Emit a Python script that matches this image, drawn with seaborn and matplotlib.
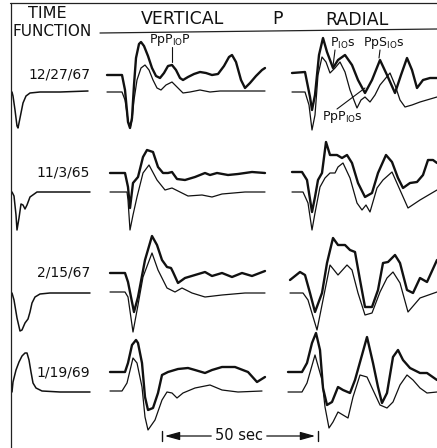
import numpy as np
import pandas as pd
import seaborn as sns
import matplotlib.pyplot as plt

# Event dates (one row each)
events = ['12/27/67', '11/3/65', '2/15/67', '1/19/69']

TICKS_PER_50S = 156

# time functions
tf1_t = [0, 1, 3, 5, 6, 8, 11, 14, 18, 28, 48, 76]
tf1_a = [0, -4, -18, -34, -36, -26, -11, -4, -1, 0, 0, 1]
tf2_t = [0, 2, 4, 5, 7, 9, 11, 13, 15, 18, 25, 38, 78]
tf2_a = [0, -4, -23, -38, -26, -12, -13, -17, -13, -5, 0, 0, 0]
tf3_t = [0, 2, 5, 8, 10, 13, 16, 18, 20, 23, 28, 38, 78]
tf3_a = [0, -7, -25, -38, -37, -30, -26, -19, -10, -4, -1, 0, 0]
tf4_t = [0, 1, 4, 7, 10, 13, 15, 17, 19, 21, 24, 30, 48, 78]
tf4_a = [0, 10, 22, 30, 36, 39, 39, 32, 20, 9, 4, 1, 0, 0]

# vertical component: observed (o) and synthetic (s)
v1o_t = [0, 15, 18, 21, 23, 25, 27, 29, 32, 34, 37, 41, 45, 49, 53, 57, 61, 65, 69, 73, 76,
         81, 87, 93, 99, 105, 111, 117, 122, 125, 129, 134, 138, 143, 149, 155, 158]
v1o_a = [0, 0, -15, -47, -53, -43, -10, 17, 31, 33, 29, 19, 7, -1, -3, 2, 9, 10, 5, -3, -5,
         -2, 1, 3, 2, 0, 1, 9, 18, 20, 13, -5, -13, -8, -1, 5, 7]
v1s_t = [0, 15, 18, 21, 23, 25, 27, 30, 34, 38, 42, 46, 50, 54, 59, 65, 70, 76, 83, 93, 103, 113, 133, 158]
v1s_a = [0, 0, -8, -28, -36, -28, -8, 12, 24, 27, 22, 12, 4, 2, 7, 10, 5, -1, 0, 2, 0, 1, 1, 1]

v2o_t = [0, 15, 18, 20, 23, 28, 33, 37, 43, 48, 53, 58, 62, 67, 75, 85, 95, 100, 107, 118, 128, 142, 155]
v2o_a = [0, 0, -14, -35, -10, -4, 16, 23, 21, 6, 0, 0, 1, -6, -7, -4, 0, -2, 0, -2, -1, 1, 0]
v2s_t = [0, 17, 18, 20, 23, 27, 33, 39, 47, 55, 62, 70, 78, 92, 102, 112, 135, 155]
v2s_a = [0, 0, -8, -38, -23, -5, 19, 27, 12, 2, 4, 0, -4, -3, -5, -2, 0, 0]

v3o_t = [0, 15, 18, 24, 28, 35, 42, 47, 52, 57, 61, 63, 68, 75, 85, 95, 102, 112, 122, 132, 142, 155]
v3o_a = [0, 0, -9, -39, -24, 13, 37, 28, 13, 6, 5, 1, -10, -5, -2, 1, -3, 0, -4, 0, -3, 2]
v3s_t = [0, 15, 18, 23, 28, 33, 42, 48, 57, 65, 72, 82, 95, 112, 135, 155]
v3s_a = [0, 0, -5, -40, -13, 15, 39, 22, 4, 0, 4, -1, -5, -3, -1, -1]

v4o_t = [0, 15, 18, 22, 26, 28, 32, 35, 38, 43, 48, 52, 58, 68, 78, 85, 95, 102, 112, 125, 138, 147, 155]
v4o_a = [0, 0, 9, 27, 32, 29, 9, -25, -38, -36, -21, -3, 0, 3, 4, 2, -1, 2, 5, 5, 0, -10, -5]
v4s_t = [0, 12, 17, 23, 27, 32, 35, 38, 45, 52, 57, 62, 67, 73, 85, 100, 112, 128, 152]
v4s_a = [0, 0, 8, 33, 28, 4, -26, -39, -29, -9, -1, -2, -7, -2, 3, 6, 1, -1, 0]

# radial component
r1o_t = [0, 13, 18, 20, 23, 27, 31, 35, 41, 46, 53, 60, 66, 73, 80, 88, 95, 103, 109, 115, 120, 125, 131, 138, 145]
r1o_a = [0, 1, -24, -37, -22, 18, 35, 21, 5, 13, 18, 8, -7, -20, -7, 13, -2, -20, -2, 15, 3, -15, -7, -5, -5]
r1s_t = [0, 13, 17, 20, 23, 26, 30, 34, 38, 43, 48, 53, 58, 65, 69, 73, 78, 83, 88, 98, 103, 108, 113, 120, 128, 145]
r1s_a = [0, 0, -13, -38, -23, 17, 35, 30, 19, 24, 30, 20, 2, -16, -8, -5, -10, -3, 7, 19, 7, -8, -15, -13, -10, -5]

r2o_t = [0, 10, 15, 20, 23, 26, 30, 34, 38, 45, 50, 55, 60, 66, 73, 80, 86, 94, 100, 106, 111, 118, 125, 131, 136, 141, 145]
r2o_a = [0, 0, -8, -40, -25, -8, -1, 30, 17, 17, 14, 17, 9, -11, -25, -21, -1, 17, 10, -6, -16, -11, -10, -3, 12, 12, 9]
r2s_t = [0, 11, 16, 20, 23, 28, 33, 38, 43, 46, 51, 58, 65, 70, 74, 78, 85, 91, 100, 108, 116, 128, 145]
r2s_a = [0, 0, -11, -38, -21, 5, 14, 19, 19, 25, 29, 14, -11, -18, -13, -20, 4, 12, 20, 2, -16, -8, 2]

r3o_t = [0, 10, 15, 20, 25, 32, 37, 43, 48, 55, 60, 65, 70, 75, 82, 88, 93, 98, 105, 110, 117, 123, 130, 137, 147]
r3o_a = [0, 8, 5, -13, -32, -13, 17, 42, 35, 35, 30, 28, 0, -27, -27, -10, 17, 18, 25, 17, -10, -13, 2, -2, 20]
r3s_t = [0, 13, 18, 27, 32, 40, 48, 57, 62, 68, 75, 82, 90, 97, 103, 110, 118, 130, 147]
r3s_a = [0, 0, -7, -37, -12, 28, 18, 28, 23, 0, -22, -20, 1, 15, 21, 10, -19, -5, 1]

r4o_t = [0, 14, 19, 24, 28, 32, 35, 39, 44, 50, 55, 62, 67, 74, 79, 85, 90, 94, 99, 105, 110, 115, 122, 132, 139, 149]
r4o_a = [0, 0, 9, 29, 39, 22, -16, -33, -30, -15, -18, -21, -8, 17, 35, 9, -15, -31, -21, 15, 22, 12, 4, -1, -1, -8]
r4s_t = [0, 14, 19, 27, 34, 37, 41, 45, 50, 55, 60, 65, 72, 79, 85, 92, 99, 105, 112, 119, 125, 132, 139, 149]
r4s_a = [0, 0, 9, 37, 12, -15, -36, -30, -20, -23, -26, -5, 17, 15, 2, -13, -16, -10, 7, 17, 12, 4, -1, 0]

series = {
    'tf1': (tf1_t, tf1_a, 'tf'), 'tf2': (tf2_t, tf2_a, 'tf'),
    'tf3': (tf3_t, tf3_a, 'tf'), 'tf4': (tf4_t, tf4_a, 'tf'),
    'v1o': (v1o_t, v1o_a, 'obs'), 'v1s': (v1s_t, v1s_a, 'syn'),
    'v2o': (v2o_t, v2o_a, 'obs'), 'v2s': (v2s_t, v2s_a, 'syn'),
    'v3o': (v3o_t, v3o_a, 'obs'), 'v3s': (v3s_t, v3s_a, 'syn'),
    'v4o': (v4o_t, v4o_a, 'obs'), 'v4s': (v4s_t, v4s_a, 'syn'),
    'r1o': (r1o_t, r1o_a, 'obs'), 'r1s': (r1s_t, r1s_a, 'syn'),
    'r2o': (r2o_t, r2o_a, 'obs'), 'r2s': (r2s_t, r2s_a, 'syn'),
    'r3o': (r3o_t, r3o_a, 'obs'), 'r3s': (r3s_t, r3s_a, 'syn'),
    'r4o': (r4o_t, r4o_a, 'obs'), 'r4s': (r4s_t, r4s_a, 'syn'),
}

# where each trace sits on the page (start, baseline)
pos = {
    'tf1': (12, 92), 'tf2': (12, 192), 'tf3': (12, 293), 'tf4': (12, 392),
    'v1o': (107, 75), 'v1s': (107, 92), 'r1o': (292, 73), 'r1s': (292, 92),
    'v2o': (110, 173), 'v2s': (110, 192), 'r2o': (292, 172), 'r2s': (292, 192),
    'v3o': (110, 273), 'v3s': (110, 292), 'r3o': (290, 280), 'r3s': (290, 293),
    'v4o': (110, 372), 'v4s': (110, 391), 'r4o': (288, 372), 'r4s': (288, 392),
}
label_y = [75, 173, 273, 373]

frames = []
for name, (t, a, kind) in series.items():
    x0, y0 = pos[name]
    frames.append(pd.DataFrame({'x': x0 + np.array(t), 'y': y0 - np.array(a),
                                'trace': name, 'kind': kind}))
df = pd.concat(frames, ignore_index=True)

sns.set_style('white')
plt.rcParams['font.family'] = ['DejaVu Sans']
plt.rcParams['mathtext.fontset'] = 'dejavusans'

fig = plt.figure(figsize=(4.37, 4.48), dpi=100)
ax = fig.add_axes([0, 0, 1, 1])

for kind, lw in [('tf', 1.1), ('obs', 1.7), ('syn', 0.9)]:
    sns.lineplot(data=df[df['kind'] == kind], x='x', y='y', units='trace', estimator=None,
                 sort=False, color='#111111', lw=lw, legend=False, ax=ax,
                 solid_joinstyle='round')

ax.set_xlim(0, 437)
ax.set_ylim(448, 0)
ax.axis('off')

# frame lines
ax.plot([10, 437], [3, 3], color='#222222', lw=0.9)
ax.plot([11, 11], [3, 448], color='#222222', lw=0.9)
ax.plot([100, 437], [33, 29], color='#222222', lw=0.9)

# headers
hdr = dict(fontsize=12.5, color='#111111', va='center')
ax.text(47, 14, 'TIME', ha='center', fontsize=11.5, color='#111111', va='center')
ax.text(13, 32, 'FUNCTION', ha='left', fontsize=11, color='#111111', va='center')
ax.text(182, 19, 'VERTICAL', ha='center', **hdr)
ax.text(277, 19, 'P', ha='center', **hdr)
ax.text(357, 20, 'RADIAL', ha='center', **hdr)

for ev, y in zip(events, label_y):
    ax.text(90, y, ev, ha='right', va='center', fontsize=10, color='#111111')

# phase labels
lab = dict(fontsize=9, color='#111111', va='center', ha='left')
ax.text(149, 40, r'$\mathregular{PpP_{IO}P}$', **lab)
ax.plot([172, 172], [47, 62], color='#111111', lw=0.8)
ax.text(330, 43, r'$\mathregular{P_{IO}s}$', **lab)
ax.plot([335, 333], [50, 66], color='#111111', lw=0.8)
ax.text(363, 43, r'$\mathregular{PpS_{IO}s}$', **lab)
ax.plot([380, 379], [50, 58], color='#111111', lw=0.8)
ax.text(322, 117, r'$\mathregular{PpP_{IO}s}$', **lab)
ax.plot([337, 365], [109, 88], color='#111111', lw=0.8)

# 50 sec scale bar
x_left = 162
x_right = x_left + TICKS_PER_50S
ax.plot([x_left, x_left], [431, 441], color='#111111', lw=1.0)
ax.plot([x_right, x_right], [431, 441], color='#111111', lw=1.0)
ax.annotate('', xy=(x_left, 436), xytext=(214, 436),
            arrowprops=dict(arrowstyle='-|>,head_length=0.9,head_width=0.25', lw=0.9, color='#111111'))
ax.annotate('', xy=(x_right, 436), xytext=(264, 436),
            arrowprops=dict(arrowstyle='-|>,head_length=0.9,head_width=0.25', lw=0.9, color='#111111'))
ax.text(239, 436, '50 sec', ha='center', va='center', fontsize=10.5, color='#111111')

fig.savefig('out.png', dpi=100, facecolor='white')
